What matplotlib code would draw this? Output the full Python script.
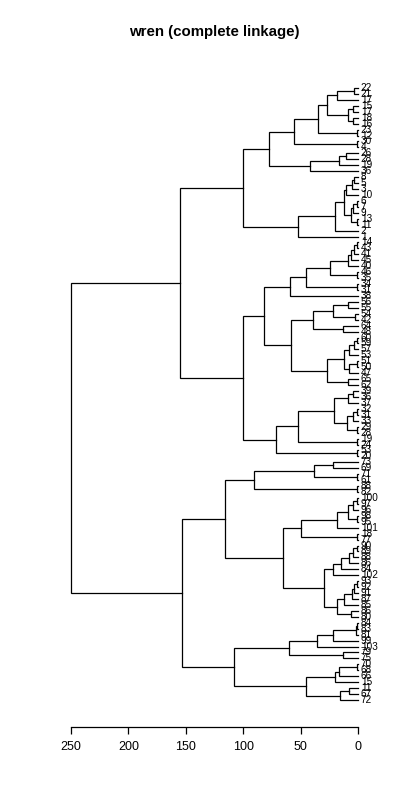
import matplotlib
matplotlib.use("Agg")
import matplotlib.pyplot as plt

leaf_labels = ["22","21","17","15","17","18","16","23","12","30","4","26","28","19","36",
               "8","5","3","10","6","7","9","13","11","2","1",
               "14","43","41","45","40","46","35","34","31","38",
               "56","55","54","42","64","48",
               "60","59","57","53","51","50","47","65","62",
               "39","36","37","32","31","33","29","28","19","24","53","20",
               "73","69","71","61","88","82",
               "100","97","96","98","95","101","18","77",
               "90","89","88","86","84","102",
               "93","92","91","87","85","86","80",
               "84","83","81","99","103","79","75",
               "70","68","66","15","11","67","72"]

# merge height between each pair of neighbouring leaves
gap_heights = [3.5,18,27,4,9,4,35,1,56,1,77.5,10.5,16.5,42,100,3.5,5.5,10.5,12,1,4,6,1,20,52,
               155,
               1,3.5,6,9,24,1,45,1,59,
               82,
               8.5,22,3,39,13,
               58,
               1,3.5,8,12,1,8,27,9,
               100,
               4,9,20.5,1,4,10,1,52,1,71,1,
               250,
               22,38,1,91,1,
               116,
               1,4,9,1,18.5,50,1,
               65.5,
               1,4,8,15,21.5,
               30,
               1,3.5,5,12,18.5,6,
               153,
               1,2,21.5,35.5,60.5,13,
               108,
               1,16.5,20,45,8,15.5]

x_ticks = [250, 200, 150, 100, 50, 0]
title = "wren (complete linkage)"

n = len(leaf_labels)
fig = plt.figure(figsize=(4, 8), dpi=100)
ax = fig.add_axes([71/400, 1-700/800, (358-71)/400, (700-88)/800])
ax.set_xlim(250, 0)
ax.set_ylim(n, 1)

lw = 0.9

def build(a, b):
    if a == b:
        return a + 1, 0.0
    k = max(range(a, b), key=lambda i: gap_heights[i])
    h = gap_heights[k]
    y1, h1 = build(a, k)
    y2, h2 = build(k + 1, b)
    ax.plot([h1, h, h, h2], [y1, y1, y2, y2], color="black", lw=lw,
            clip_on=False, solid_joinstyle="miter")
    return (y1 + y2) / 2, h

build(0, n - 1)

for i, lab in enumerate(leaf_labels):
    ax.text(-2.5, i + 1, lab, fontsize=7.2, va="center", ha="left",
            fontfamily="Liberation Sans", clip_on=False)

for s in ["top", "right", "left"]:
    ax.spines[s].set_visible(False)
ax.spines["bottom"].set_position(("outward", 27 * 72 / 100))
ax.spines["bottom"].set_bounds(250, 0)
ax.spines["bottom"].set_linewidth(lw)
ax.set_xticks(x_ticks)
ax.set_xticklabels([str(t) for t in x_ticks], fontsize=9, fontfamily="Liberation Sans")
ax.tick_params(axis="x", length=5, width=lw, pad=5)
ax.set_yticks([])
fig.text(214/400, 1-32/800, title, ha="center", va="center", fontsize=10.8,
         fontweight="bold", fontfamily="Liberation Sans")
fig.savefig("out.png", dpi=100, facecolor="white")
